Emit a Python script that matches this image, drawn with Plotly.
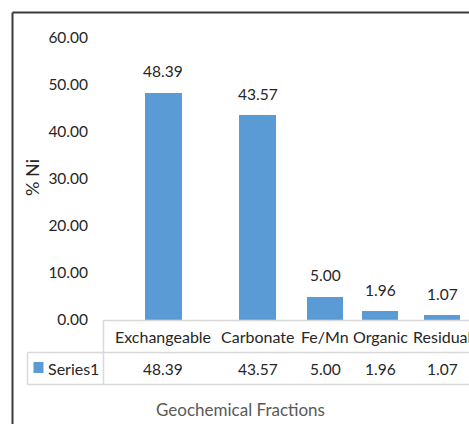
import plotly.graph_objects as go

# Nickel distribution across geochemical fractions
fractions = ["Exchangeable", "Carbonate", "Fe/Mn", "Organic", "Residual"]
ni_percent = [48.39, 43.57, 5.00, 1.96, 1.07]
series_name = "Series1"
y_ticks = [0, 10, 20, 30, 40, 50, 60]

# Layout: column centres of the category slots (x-axis units) and bar width
slot_centers = [163.3, 257.7, 325.0, 380.2, 442.0]
bar_width = 36.5

W, H = 469, 424
FONT = "Lato, DejaVu Sans Condensed, sans-serif"
TEXT = "#262626"
GRID = "#d9d9d9"
BLUE = "#5B9BD5"


def px(x):
    return x / W


def py(y):
    return 1 - y / H


plot_left, plot_top, plot_bottom = 103, 37.5, 320

fig = go.Figure()
fig.add_trace(go.Bar(
    x=slot_centers,
    y=ni_percent,
    width=bar_width,
    marker=dict(color=BLUE, line=dict(width=0)),
    name=series_name,
    hoverinfo="y",
))

annotations = []
# value labels above bars
for xc, v in zip(slot_centers, ni_percent):
    annotations.append(dict(
        x=xc, y=v, xref="x", yref="y", text=f"{v:.2f}", showarrow=False,
        yshift=21, font=dict(family=FONT, size=15.5, color=TEXT),
    ))

# data table: category row and value row
for xc, name, v in zip(slot_centers, fractions, ni_percent):
    annotations.append(dict(
        x=xc, y=py(336.5), xref="x", yref="paper", text=name, showarrow=False,
        font=dict(family=FONT, size=16, color=TEXT), yanchor="middle",
    ))
    annotations.append(dict(
        x=xc, y=py(368.5), xref="x", yref="paper", text=f"{v:.2f}", showarrow=False,
        font=dict(family=FONT, size=15.5, color=TEXT), yanchor="middle",
    ))

# legend key label in the table
annotations.append(dict(
    x=px(46), y=py(368.5), xref="paper", yref="paper", text=series_name,
    showarrow=False, xanchor="left", yanchor="middle",
    font=dict(family=FONT, size=16, color=TEXT),
))

# axis titles
annotations.append(dict(
    x=px(241), y=py(409), xref="paper", yref="paper", text="Geochemical Fractions",
    showarrow=False, yanchor="middle", font=dict(family=FONT, size=17, color="#595959"),
))
annotations.append(dict(
    x=px(32), y=py(178), xref="paper", yref="paper", text="% Ni",
    showarrow=False, textangle=-90, xanchor="center", yanchor="middle",
    font=dict(family=FONT, size=18, color=TEXT),
))

shapes = [
    # chart frame (top and left edges; the rest lies outside the page)
    dict(type="line", xref="paper", yref="paper", x0=px(12.5), x1=1,
         y0=py(12.5), y1=py(12.5), line=dict(color="#3a3a3a", width=2)),
    dict(type="line", xref="paper", yref="paper", x0=px(12.5), x1=px(12.5),
         y0=py(12.5), y1=0, line=dict(color="#3a3a3a", width=2)),
    # table grid
    dict(type="line", xref="paper", yref="paper", x0=px(103), x1=1,
         y0=py(320.5), y1=py(320.5), line=dict(color=GRID, width=1.5)),
    dict(type="line", xref="paper", yref="paper", x0=px(27.5), x1=1,
         y0=py(352.5), y1=py(352.5), line=dict(color=GRID, width=1.5)),
    dict(type="line", xref="paper", yref="paper", x0=px(27.5), x1=1,
         y0=py(384.5), y1=py(384.5), line=dict(color=GRID, width=1.5)),
    dict(type="line", xref="paper", yref="paper", x0=px(103.5), x1=px(103.5),
         y0=py(320.5), y1=py(384.5), line=dict(color=GRID, width=1.5)),
    dict(type="line", xref="paper", yref="paper", x0=px(27.5), x1=px(27.5),
         y0=py(352.5), y1=py(384.5), line=dict(color=GRID, width=1.5)),
    # legend key square
    dict(type="rect", xref="paper", yref="paper", x0=px(33.5), x1=px(43.5),
         y0=py(362), y1=py(373), fillcolor=BLUE, line=dict(width=0)),
]

fig.update_layout(
    width=W, height=H,
    margin=dict(l=0, r=0, t=0, b=0, pad=0),
    paper_bgcolor="white", plot_bgcolor="white",
    showlegend=False,
    bargap=0,
    xaxis=dict(
        domain=[px(plot_left), 1], range=[plot_left, W],
        showticklabels=False, showgrid=False, zeroline=False, showline=False,
        automargin=False, fixedrange=True,
    ),
    yaxis=dict(
        domain=[py(plot_bottom), py(plot_top)], range=[0, 60],
        tickvals=y_ticks, tickformat=".2f",
        showgrid=False, zeroline=False, showline=False,
        ticks="", ticklabelstandoff=14, automargin=False,
        tickfont=dict(family=FONT, size=15.5, color=TEXT),
        fixedrange=True,
    ),
    annotations=annotations,
    shapes=shapes,
)

fig.write_html("out.html")
